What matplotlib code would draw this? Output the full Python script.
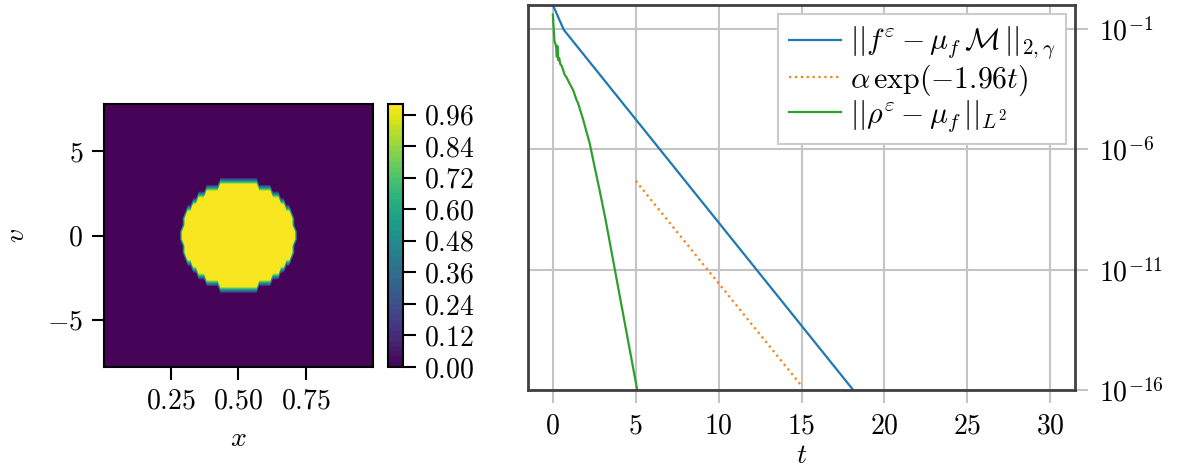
import numpy as np
import matplotlib
matplotlib.use("Agg")
import matplotlib.pyplot as plt

plt.rcParams['font.family'] = 'serif'
plt.rcParams['font.serif'] = ['cmr10']
plt.rcParams['mathtext.fontset'] = 'cm'
plt.rcParams['axes.formatter.use_mathtext'] = True
plt.rcParams['axes.unicode_minus'] = True
plt.rcParams['font.size'] = 20

# ---------------- data: left panel (initial density field) ----------------
x_range = [0.0, 1.0]
v_range = [-8.0, 8.0]
n_cells_x = 100
n_cells_v = 40
disk_center_x = 0.5
disk_center_v = 0.0
disk_radius_x = 0.208
disk_radius_v = 3.2
disk_value = 1.0
n_levels = 50
cbar_ticks = [0.00, 0.12, 0.24, 0.36, 0.48, 0.60, 0.72, 0.84, 0.96]
x_ticks = [0.25, 0.50, 0.75]
v_ticks = [-5, 0, 5]

# ---------------- data: right panel (decay curves) ----------------
t_blue = [0.0, 0.66, 18.12, 18.6]
f_blue = [1.0e0, 9.3e-2, 1.0e-16, 3.9e-17]

t_orange = [5.0, 15.0]
f_orange = [4.9e-8, 1.5e-16]

t_green = [0.0, 0.05, 0.10, 0.15, 0.20, 0.24, 0.27, 0.30, 0.34, 0.38, 0.45,
           0.55, 0.71, 0.82, 1.00, 1.22, 1.43, 1.52, 1.82, 2.22, 2.52, 2.82,
           3.17, 5.09, 5.2]
f_green = [4.0e-1, 1.0e-1, 3.0e-2, 2.5e-2, 1.8e-2, 7.0e-3, 2.0e-2, 9.0e-3,
           5.0e-3, 6.3e-3, 3.5e-3, 2.8e-3, 1.26e-3, 1.0e-3, 5.6e-4, 2.95e-4,
           1.12e-4, 8.3e-5, 1.8e-5, 1.8e-6, 1.86e-7, 2.0e-8, 1.3e-9,
           1.0e-16, 4.0e-17]

legend_labels = [r'$||f^\varepsilon - \mu_f\,\mathcal{M}\,||_{2,\gamma}$',
                 r'$\alpha\,\exp(-1.96t)$',
                 r'$||\rho^\varepsilon - \mu_f\,||_{L^2}$']
t_ticks = [0, 5, 10, 15, 20, 25, 30]
y_ticks = [1e-1, 1e-6, 1e-11, 1e-16]

# ---------------- figure ----------------
fig = plt.figure(figsize=(11.8, 4.71), dpi=100)

ax1 = fig.add_axes([104/1180, 1-367/471, (373-104)/1180, (367-104)/471])
cax = fig.add_axes([388/1180, 1-367/471, 15/1180, (367-104)/471])
ax2 = fig.add_axes([528/1180, 1-390/471, (1075-528)/1180, (390-5)/471])

# cell-centred field on the (x, v) grid
xc = x_range[0] + (np.arange(n_cells_x) + 0.5) * (x_range[1] - x_range[0]) / n_cells_x
vc = v_range[0] + (np.arange(n_cells_v) + 0.5) * (v_range[1] - v_range[0]) / n_cells_v
XC, VC = np.meshgrid(xc, vc)
inside = ((XC - disk_center_x)/disk_radius_x)**2 + ((VC - disk_center_v)/disk_radius_v)**2 <= 1.0
Z = np.where(inside, disk_value, 0.0)
cs = ax1.contourf(xc, vc, Z, levels=np.linspace(0, 1, n_levels + 1), cmap='viridis')
ax1.set_xticks(x_ticks)
ax1.set_yticks(v_ticks)
ax1.set_xlabel(r'$x$', labelpad=8)
ax1.set_ylabel(r'$v$', labelpad=12)
ax1.tick_params(length=9, width=1.5, pad=6)
for s in ax1.spines.values():
    s.set_linewidth(1.5)

cb = fig.colorbar(cs, cax=cax)
cb.set_ticks(cbar_ticks)
cb.ax.tick_params(length=9, width=1.5, pad=6)
cb.outline.set_linewidth(1.5)

gridc = '#c4c4c4'
ax2.plot(t_blue, f_blue, color='#1f77b4', lw=1.6, label=legend_labels[0])
ax2.plot(t_orange, f_orange, color='#ff7f0e', lw=1.6, ls=':', label=legend_labels[1])
ax2.plot(t_green, f_green, color='#2ca02c', lw=1.6, label=legend_labels[2])
ax2.set_yscale('log')
ax2.set_ylim(1e-16, 1e0)
ax2.set_xlim(-1.5, 31.5)
ax2.set_xticks(t_ticks)
ax2.set_yticks(y_ticks)
ax2.yaxis.set_minor_locator(matplotlib.ticker.NullLocator())
ax2.yaxis.tick_right()
ax2.grid(True, color=gridc, lw=1.5)
ax2.tick_params(length=9, width=1.5, color=gridc, pad=8)
ax2.set_xlabel(r'$t$', labelpad=2)
for s in ax2.spines.values():
    s.set_linewidth(2)
    s.set_color('#404040')
leg = ax2.legend(loc='upper right', fancybox=False, borderaxespad=0.3,
                 edgecolor='#cccccc', framealpha=1.0, fontsize=21.5,
                 handlelength=1.75, labelspacing=0.0, borderpad=0.35,
                 handletextpad=0.3)
leg.get_frame().set_linewidth(1.5)

fig.savefig('out.png', dpi=100)
